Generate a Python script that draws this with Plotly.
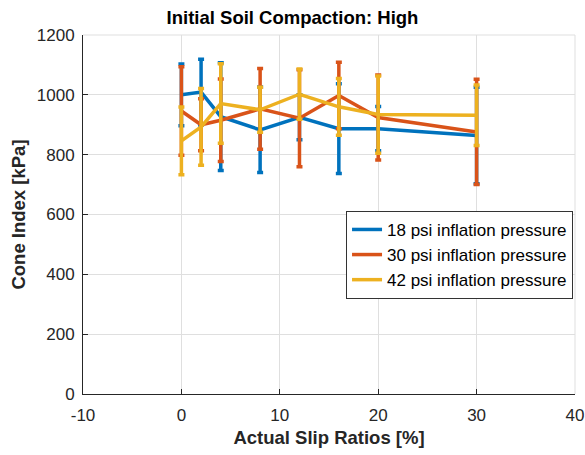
import plotly.graph_objects as go

slip = [0, 2, 4, 8, 12, 16, 20, 30]

ci_18 = [1000, 1009, 927, 883, 925, 887, 887, 864]
err_18 = [103, 110, 180, 143, 75, 150, 74, 161]

ci_30 = [946, 900, 915, 953, 922, 998, 924, 876]
err_30 = [148, 87, 138, 135, 162, 111, 142, 176]

ci_42 = [846, 893, 971, 950, 1002, 960, 934, 932]
err_42 = [113, 128, 133, 75, 84, 95, 129, 101]

x_ticks = [-10, 0, 10, 20, 30, 40]
x_tick_labels = ["-10", "0", "10", "20", "30", "40"]
y_ticks = [0, 200, 400, 600, 800, 1000, 1200]

names = ["18 psi inflation pressure", "30 psi inflation pressure", "42 psi inflation pressure"]
colors = ["#0072BD", "#D95319", "#EDB120"]

fig = go.Figure()
for ys, es, nm, c in zip([ci_18, ci_30, ci_42], [err_18, err_30, err_42], names, colors):
    fig.add_trace(go.Scatter(
        x=slip, y=ys, mode="lines", name=nm,
        line=dict(color=c, width=3.5),
        error_y=dict(type="data", array=es, visible=True, color=c, thickness=3.5, width=3),
    ))

fig.update_layout(
    width=585, height=455,
    margin=dict(l=83, r=10, t=35, b=61, autoexpand=False),
    paper_bgcolor="white", plot_bgcolor="white",
    font=dict(family="Liberation Sans, Arial", size=17, color="#262626"),
    title=dict(text="<b>Initial Soil Compaction: High</b>", x=0.5, xanchor="center",
               y=0.962, yanchor="middle", font=dict(size=18.5, color="#000000")),
    xaxis=dict(range=[-10, 40], tickvals=x_ticks, ticktext=x_tick_labels,
               showgrid=True, gridcolor="#dfdfdf", gridwidth=1,
               showline=True, linecolor="#262626", linewidth=1,
               ticks="inside", ticklen=5, tickcolor="#262626",
               ticklabelstandoff=6, automargin=False,
               zeroline=False,
               title=dict(text="<b>Actual Slip Ratios [%]</b>", font=dict(size=18.5), standoff=6)),
    yaxis=dict(range=[0, 1200], tickvals=y_ticks,
               showgrid=True, gridcolor="#dfdfdf", gridwidth=1,
               showline=True, linecolor="#262626", linewidth=1,
               ticks="inside", ticklen=5, tickcolor="#262626",
               ticklabelstandoff=4, automargin=False,
               zeroline=False,
               title=dict(text="<b>Cone Index [kPa]</b>", font=dict(size=18.5), standoff=6)),
    legend=dict(x=0.996, xanchor="right", y=0.51, yanchor="top",
                bgcolor="white", bordercolor="#333333", borderwidth=1,
                font=dict(size=17, color="#000000"), tracegroupgap=0,
                itemwidth=30),
    showlegend=True,
)

fig.add_shape(type="line", xref="paper", yref="paper", x0=1, x1=1, y0=0, y1=1,
              line=dict(color="#dfdfdf", width=1), layer="below")
fig.add_shape(type="line", xref="paper", yref="paper", x0=0, x1=1, y0=1, y1=1,
              line=dict(color="#dfdfdf", width=1), layer="below")

fig.write_html("out.html")
